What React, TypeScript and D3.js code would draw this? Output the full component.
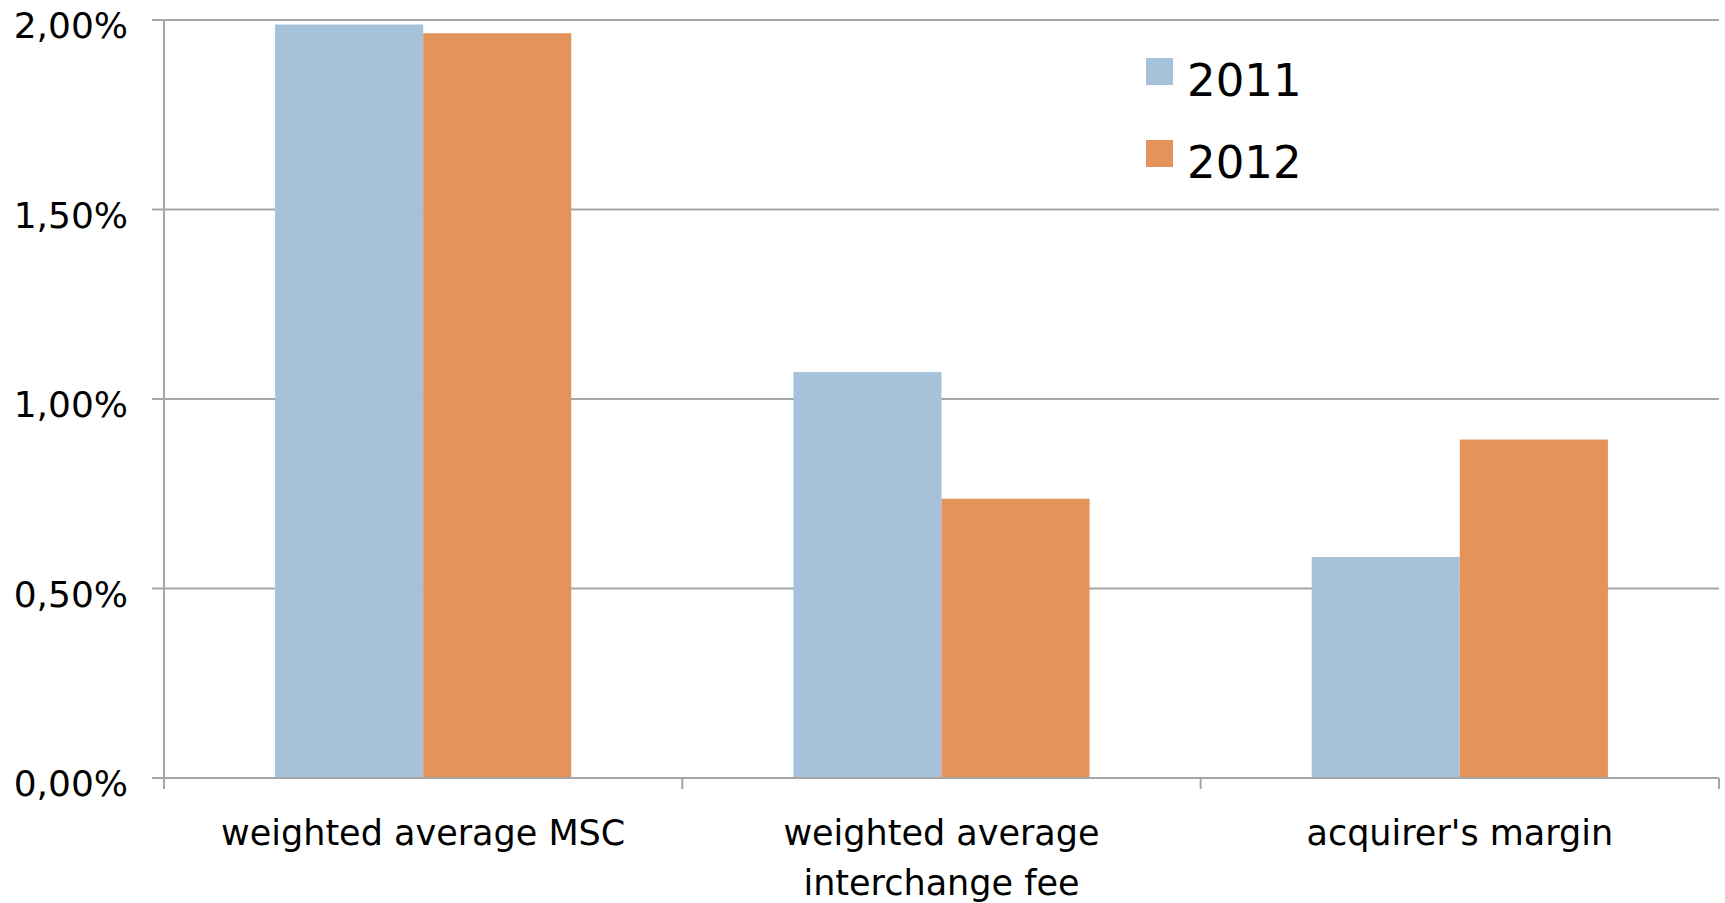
import React from "react";
import * as d3 from "d3";

// Fee components, in percent of transaction value
const categories: string[] = ["weighted average MSC", "weighted average interchange fee", "acquirer's margin"];
const categoryLines: string[][] = [["weighted average MSC"], ["weighted average", "interchange fee"], ["acquirer's margin"]];
const seriesNames: string[] = ["2011", "2012"];
const values2011: number[] = [1.988, 1.071, 0.583];
const values2012: number[] = [1.965, 0.737, 0.893];
const yTicks: number[] = [0, 0.5, 1.0, 1.5, 2.0];

const seriesColors = ["#A6C2DA", "#E4935A"];
const gridColor = "#A6A6A6";
const FONT = "'DejaVu Sans', 'Open Sans', sans-serif";

const W = 1725;
const H = 903;
const plot = { left: 164, right: 1719, top: 20, bottom: 778 };

const fmtTick = (v: number) => d3.format(".2f")(v).replace(".", ",") + "%";

export default function App() {
  const x0 = d3.scaleBand<string>().domain(categories).range([plot.left, plot.right]).paddingInner(0).paddingOuter(0);
  const x1 = d3.scaleBand<string>().domain(seriesNames).range([0, x0.bandwidth()]).paddingInner(0).paddingOuter(0.75);
  const y = d3.scaleLinear().domain([0, 2]).range([plot.bottom, plot.top]);

  const seriesValues = [values2011, values2012];
  const catBoundaries = [...categories.map((c) => x0(c) as number), plot.right];

  return (
    <svg
      width={W}
      height={H}
      style={{ position: "absolute", left: 0, top: 0, background: "#fff" }}
      fontFamily={FONT}
    >
      {/* horizontal gridlines with left tick stubs */}
      {yTicks.map((t) => (
        <line key={"g" + t} x1={plot.left - 12} x2={plot.right} y1={y(t)} y2={y(t)} stroke={gridColor} strokeWidth={2} />
      ))}

      {/* bars */}
      {seriesNames.map((s, si) =>
        categories.map((c, ci) => (
          <rect
            key={s + c}
            x={(x0(c) as number) + (x1(s) as number)}
            y={y(seriesValues[si][ci])}
            width={x1.bandwidth()}
            height={y(0) - y(seriesValues[si][ci])}
            fill={seriesColors[si]}
          />
        ))
      )}

      {/* value axis */}
      <line x1={plot.left} x2={plot.left} y1={plot.top} y2={plot.bottom + 11} stroke={gridColor} strokeWidth={2} />
      {/* category axis */}
      <line x1={plot.left - 12} x2={plot.right} y1={plot.bottom} y2={plot.bottom} stroke={gridColor} strokeWidth={2} />
      {catBoundaries.map((bx, i) => (
        <line key={"ct" + i} x1={bx} x2={bx} y1={plot.bottom} y2={plot.bottom + 11} stroke={gridColor} strokeWidth={2} />
      ))}

      {/* tick labels */}
      {yTicks.map((t) => (
        <text key={"l" + t} x={128} y={y(t) + 18} textAnchor="end" fontSize={36} fill="#000">
          {fmtTick(t)}
        </text>
      ))}

      {/* category labels */}
      {categories.map((c, ci) => (
        <text key={"c" + c} textAnchor="middle" fontSize={35} fill="#000">
          {categoryLines[ci].map((line, li) => (
            <tspan key={li} x={(x0(c) as number) + x0.bandwidth() / 2} y={845 + li * 50}>
              {line}
            </tspan>
          ))}
        </text>
      ))}

      {/* legend */}
      {seriesNames.map((s, si) => (
        <g key={"lg" + s} transform={`translate(1146, ${58 + si * 82})`}>
          <rect x={0} y={0} width={27} height={27} fill={seriesColors[si]} />
          <text x={41} y={38} fontSize={45} fill="#000">
            {s}
          </text>
        </g>
      ))}
    </svg>
  );
}
